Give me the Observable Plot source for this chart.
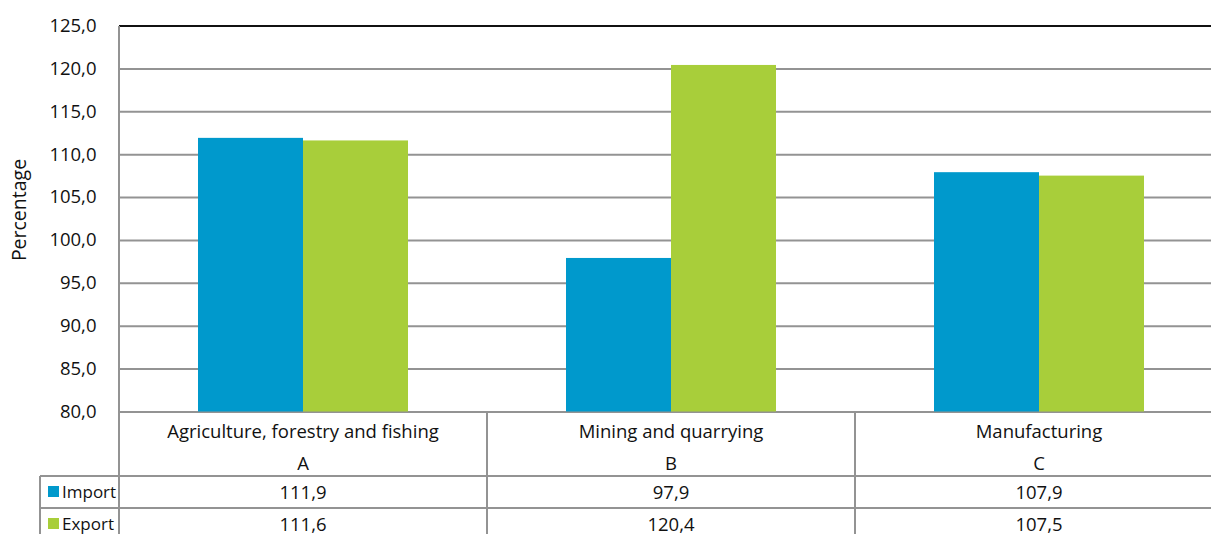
<!DOCTYPE html>
<html>
<head>
<meta charset="utf-8">
<script src="https://cdn.jsdelivr.net/npm/d3@7"></script>
<script src="https://cdn.jsdelivr.net/npm/@observablehq/plot@0.6"></script>
<style>
  html, body { margin: 0; padding: 0; background: #fff; overflow: hidden; }
  #wrap { position: relative; width: 1211px; height: 534px; overflow: hidden; font-family: "Open Sans", sans-serif; color: #111; }
  #chart svg { max-width: none !important; display: block; }
  #overlay { position: absolute; left: 0; top: 0; width: 1223px; height: 534px; pointer-events: none; }
  .ln { position: absolute; background: #939393; }
  .tx { position: absolute; font-size: 18.5px; line-height: 22px; text-align: center; white-space: nowrap; }
  .sw { position: absolute; width: 11px; height: 11px; }
  .ylab { position: absolute; font-size: 19.5px; line-height: 22px; white-space: nowrap; transform: translate(-50%, -50%) rotate(-90deg); }
</style>
</head>
<body>
<div id="wrap"><div id="chart"></div><div id="overlay"></div></div>
<script>
const categories = ["Agriculture, forestry and fishing", "Mining and quarrying", "Manufacturing"];
const codes = ["A", "B", "C"];
const series = ["Import", "Export"];
const importValues = [111.9, 97.9, 107.9];
const exportValues = [111.6, 120.4, 107.5];
const colors = ["#0099cc", "#a8ce3a"];
const yTicks = [80, 85, 90, 95, 100, 105, 110, 115, 120, 125];
const yLabel = "Percentage";

const fmt = d => d.toFixed(1).replace(".", ",");

const data = [];
categories.forEach((c, i) => {
  data.push({category: c, series: "Import", value: importValues[i]});
  data.push({category: c, series: "Export", value: exportValues[i]});
});

const W = 1223, H = 534, ML = 119, MT = 25.5, MB = 122.5;

const chart = Plot.plot({
  width: W,
  height: H,
  marginLeft: ML,
  marginRight: 0,
  marginTop: MT,
  marginBottom: MB,
  style: {fontFamily: "Open Sans", fontSize: "18.5px", color: "#111", background: "#fff", maxWidth: "none"},
  fx: {domain: categories, padding: 0, axis: null},
  x: {domain: series, paddingInner: 0, paddingOuter: 0.742, axis: null},
  y: {
    domain: [80, 125],
    ticks: yTicks,
    tickFormat: fmt,
    tickSize: 0,
    tickPadding: 23,
    label: null
  },
  color: {domain: series, range: colors},
  marks: [
    Plot.ruleY(yTicks.filter(d => d < 125), {stroke: "#939393", strokeWidth: 2}),
    Plot.ruleY([125], {stroke: "#111", strokeWidth: 2}),
    Plot.barY(data, {fx: "category", x: "series", y1: 80, y2: "value", fill: "series"})
  ]
});
chart.style.maxWidth = "none";
document.getElementById("chart").appendChild(chart);

// Data table below the plot
const ov = document.getElementById("overlay");
function line(x, y, w, h) {
  const d = document.createElement("div");
  d.className = "ln";
  d.style.left = x + "px"; d.style.top = y + "px";
  d.style.width = w + "px"; d.style.height = h + "px";
  ov.appendChild(d);
}
function text(str, cx, cy, w) {
  const d = document.createElement("div");
  d.className = "tx";
  d.textContent = str;
  d.style.left = (cx - w / 2) + "px";
  d.style.width = w + "px";
  d.style.top = (cy - 11) + "px";
  ov.appendChild(d);
}
const colW = (W - ML) / categories.length;
const plotBottom = H - MB;
const row1 = plotBottom + 64, row2 = row1 + 32;
const legendLeft = 40;

// y-axis title
const yl = document.createElement("div");
yl.className = "ylab";
yl.textContent = yLabel;
yl.style.left = "19px";
yl.style.top = "210px";
ov.appendChild(yl);

// axis line
line(ML - 1, MT, 2, H - MT);
// column dividers
for (let i = 1; i < categories.length; i++) line(ML + colW * i - 1, plotBottom, 2, H - plotBottom);
// row lines
line(legendLeft, row1 - 1, W - legendLeft, 2);
line(legendLeft, row2 - 1, W - legendLeft, 2);
// legend column left border
line(legendLeft - 1, row1, 2, H - row1);

categories.forEach((c, i) => {
  const cx = ML + colW * (i + 0.5);
  text(c, cx, plotBottom + 19, colW);
  text(codes[i], cx, plotBottom + 51, colW);
  text(fmt(importValues[i]), cx, row1 + 16, colW);
  text(fmt(exportValues[i]), cx, row2 + 16, colW);
});

series.forEach((s, j) => {
  const top = j === 0 ? row1 : row2;
  const sw = document.createElement("div");
  sw.className = "sw";
  sw.style.background = colors[j];
  sw.style.left = "48px";
  sw.style.top = (top + 10) + "px";
  ov.appendChild(sw);
  const t = document.createElement("div");
  t.className = "tx";
  t.style.textAlign = "left";
  t.style.fontSize = "17px";
  t.style.left = "62px";
  t.style.top = (top + 5) + "px";
  t.textContent = s;
  ov.appendChild(t);
});
</script>
</body>
</html>
